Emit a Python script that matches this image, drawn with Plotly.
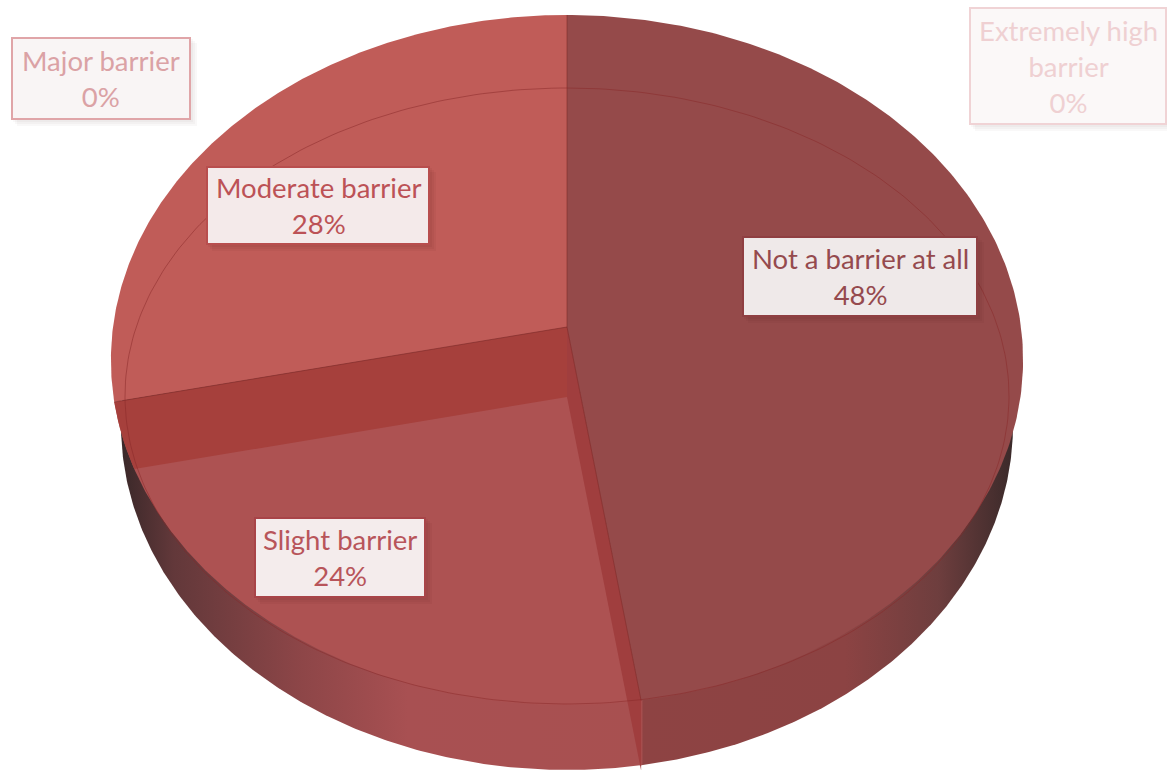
import numpy as np
import plotly.graph_objects as go

# Survey shares, in clockwise order from twelve o'clock
categories = ["Not a barrier at all", "Slight barrier", "Moderate barrier",
              "Major barrier", "Extremely high barrier"]
shares = [48, 24, 28, 0, 0]

# Pie geometry in screen pixels
WIDTH, HEIGHT = 1167, 770
CX = 567
HUB_Y = 327
NEAR_PULL = -0.0957
SPREAD_Y = 310.6
SPREAD_X = 454
DEPTH = 70
RIM_CY, RIM_RX, RIM_RY = 425, 446, 345
BEVEL_CY, BEVEL_RX, BEVEL_RY = 396, 442, 308

face_colors = ["#954A4A", "#AD5252", "#C05C58"]
BAND_COLOR = "#A6403C"
SLIVER_COLOR = "#A03E3E"
EDGE_COLOR = "rgba(120,40,38,0.55)"
BEVEL_COLOR = "rgba(135,40,40,0.5)"
FONT = "Lato"

# Label box styling and placement, one row per category
label_boxes = {
    "Not a barrier at all": (743, 237, 977, 316, "#EFE9E9", "#8F3F42", "#954A4E"),
    "Slight barrier": (255, 518, 425, 597, "#F4ECEC", "#A84448", "#B8555A"),
    "Moderate barrier": (207, 167, 429, 244, "#F4EAEA", "#B84E4E", "#BC5256"),
    "Major barrier": (12, 38, 190, 119, "#F9F5F5", "#E0A5A8", "#DBA2A5"),
    "Extremely high barrier": (970, 8, 1166, 124, "#FBF8F8", "#F0D3D5", "#EFD0D2"),
}
label_lines = {"Extremely high barrier": ["Extremely high", "barrier"]}


def project(theta_deg):
    """Map a clockwise pie angle to the tilted disc's top face."""
    t = np.radians(np.asarray(theta_deg, dtype=float))
    # slight warp of the perspective, pinned at 0 and 360 degrees
    t = t - np.radians(1.37) * np.sin(t / 2) + np.radians(0.56) * np.sin(t)
    u = np.cos(t)
    denom = 1 - NEAR_PULL * u
    return CX + SPREAD_X * np.sin(t) / denom, (HUB_Y - SPREAD_Y * u) / denom


def arc(start, end, n=240):
    return project(np.linspace(start, end, n))


def poly(xs, ys, color, name):
    return go.Scatter(x=list(xs), y=list(ys), mode="lines", fill="toself", fillcolor=color,
                      line=dict(width=0, color=color), hoverinfo="skip", name=name)


fig = go.Figure()

bounds = np.concatenate([[0], np.cumsum(shares) * 3.6])
seam_x, seam_y = project(bounds[1])
left_x, left_y = project(bounds[2])

# Side wall: a shifted ellipse split at the front seam, shaded toward both flanks
seam_t = np.arcsin((seam_x - CX) / RIM_RX)
OVERLAP = 0.003  # keeps the two halves from leaving a hairline between them
wall_sides = (
    (np.linspace(seam_t - OVERLAP, np.pi - seam_t + OVERLAP, 400),
     [[0, "#8E4343"], [0.55, "#8C4343"], [0.8, "#6E3E3E"], [1, "#3B2A2A"]]),
    (np.linspace(np.pi - seam_t - OVERLAP, 2 * np.pi + seam_t + OVERLAP, 400),
     [[0, "#3A2829"], [0.1, "#62383A"], [0.35, "#8E4648"], [0.55, "#A85052"], [1, "#A85050"]]),
)
for rim_t, scale in wall_sides:
    fig.add_trace(go.Scatter(
        x=CX + RIM_RX * np.sin(rim_t), y=RIM_CY - RIM_RY * np.cos(rim_t),
        mode="lines", fill="toself",
        fillgradient=dict(type="horizontal", colorscale=scale),
        line=dict(width=0), hoverinfo="skip", name="wall"))

# Top faces of the three non-empty slices, wedged from the hub
for i, color in enumerate(face_colors):
    ax, ay = arc(bounds[i], bounds[i + 1])
    fig.add_trace(poly(np.r_[CX, ax, CX], np.r_[HUB_Y, ay, HUB_Y], color, categories[i]))

# Exposed cut face between the moderate and slight slices, clipped by the outline
low_hub = HUB_Y + DEPTH
ax, ay = arc(bounds[2], bounds[1], 600)
line_y = low_hub + (left_y + DEPTH - low_hub) * (ax - CX) / (left_x - CX)
clip = np.argmax(ay >= line_y)
fig.add_trace(poly(np.r_[CX, ax[:clip + 1], CX, CX],
                   np.r_[HUB_Y, ay[:clip + 1], low_hub, HUB_Y], BAND_COLOR, "cut face"))

# Exposed cut face between the slight slice and the largest slice
fig.add_trace(poly([CX, seam_x, seam_x, CX, CX],
                   [HUB_Y, seam_y, seam_y + DEPTH, low_hub, HUB_Y], SLIVER_COLOR, "cut face"))

# Thin edges: cut lines and the bevel ring on the top face
fig.add_trace(go.Scatter(x=[CX, CX], y=[project(0)[1], HUB_Y], mode="lines",
                         line=dict(color=EDGE_COLOR, width=1), hoverinfo="skip"))
fig.add_trace(go.Scatter(x=[left_x, CX, seam_x], y=[left_y, HUB_Y, seam_y], mode="lines",
                         line=dict(color=EDGE_COLOR, width=1), hoverinfo="skip"))
bev_t = np.linspace(0, 2 * np.pi, 360)
fig.add_trace(go.Scatter(x=CX + BEVEL_RX * np.sin(bev_t), y=BEVEL_CY - BEVEL_RY * np.cos(bev_t),
                         mode="lines", line=dict(color=BEVEL_COLOR, width=1), hoverinfo="skip"))

# Value labels with a soft drop shadow
for cat, share in zip(categories, shares):
    x0, y0, x1, y1, fill, border, ink = label_boxes[cat]
    fade = 0.05 if share else 0.03
    for off in (7, 5, 3):
        fig.add_shape(type="rect", x0=x0 + off - 2, y0=y0 + off - 2, x1=x1 + off, y1=y1 + off,
                      fillcolor=f"rgba(70,20,20,{fade})", line_width=0, layer="above")
    fig.add_shape(type="rect", x0=x0, y0=y0, x1=x1, y1=y1, fillcolor=fill,
                  line=dict(color=border, width=2), layer="above")
    lines = label_lines.get(cat, [cat]) + [f"{share}%"]
    fig.add_annotation(x=(x0 + x1) / 2, y=(y0 + y1) / 2, text="<br>".join(lines),
                       showarrow=False, xanchor="center", yanchor="middle",
                       font=dict(family=FONT, size=27.5, color=ink))

fig.update_layout(
    width=WIDTH, height=HEIGHT, margin=dict(l=0, r=0, t=0, b=0),
    paper_bgcolor="white", plot_bgcolor="white", showlegend=False,
    xaxis=dict(range=[0, WIDTH], visible=False, fixedrange=True),
    yaxis=dict(range=[HEIGHT, 0], visible=False, fixedrange=True),
)
fig.write_html("out.html", config=dict(displayModeBar=False))
